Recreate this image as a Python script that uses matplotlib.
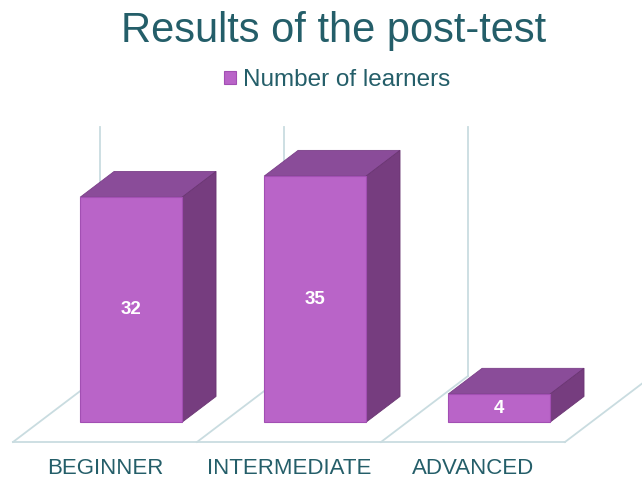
import numpy as np
import matplotlib.pyplot as plt
from matplotlib.patches import Polygon

# data
categories = ["BEGINNER", "INTERMEDIATE", "ADVANCED"]
learners = [32, 35, 4]
series_name = "Number of learners"
title = "Results of the post-test"
wall_top = 35.4

# oblique "3D" look: depth vector in data units (category, value)
DEPTH_X = 0.473
DEPTH_V = 9.39
d_front, d_back = 0.30, 0.69
bar_width = 0.554

front_col = "#B964C8"
top_col = "#8A4C99"
side_col = "#763D7F"
grid_col = "#C9DCE0"
text_col = "#245E69"


def proj(x, v, d):
    return (x + d * DEPTH_X, v + d * DEPTH_V)


fig = plt.figure(figsize=(6.42, 4.8), dpi=100)
ax = fig.add_axes([0, 0, 1, 1])
ax.set_xlim(-0.0707, 3.4185)
ax.set_ylim(-5.405, 62.87)
ax.axis("off")

n = len(categories)
x = np.arange(n) + 0.5

# floor outline and back gridlines
ax.plot([0, n], [0, 0], color=grid_col, lw=1.3, zorder=1)
for i in range(n + 1):
    p0 = proj(i, 0, 0)
    p1 = proj(i, 0, 1)
    ax.plot([p0[0], p1[0]], [p0[1], p1[1]], color=grid_col, lw=1.3, zorder=1)
    p2 = proj(i, wall_top, 1)
    ax.plot([p1[0], p2[0]], [p1[1], p2[1]], color=grid_col, lw=1.3, zorder=1)

# bars: front faces via ax.bar, then top and side faces
bars = ax.bar(x + d_front * DEPTH_X, learners, bar_width,
              bottom=d_front * DEPTH_V, color=front_col,
              edgecolor="#A24FB3", linewidth=0.8, zorder=3, label=series_name)

for xi, h in zip(x, learners):
    x0, x1 = xi - bar_width / 2, xi + bar_width / 2
    top = [proj(x0, h, d_front), proj(x1, h, d_front),
           proj(x1, h, d_back), proj(x0, h, d_back)]
    side = [proj(x1, 0, d_front), proj(x1, 0, d_back),
            proj(x1, h, d_back), proj(x1, h, d_front)]
    ax.add_patch(Polygon(top, closed=True, facecolor=top_col,
                         edgecolor="#7A3F88", lw=0.6, zorder=2))
    ax.add_patch(Polygon(side, closed=True, facecolor=side_col,
                         edgecolor="#6A3572", lw=0.6, zorder=2))
    cx, cv = proj(xi, h / 2, d_front)
    ax.text(cx, cv, str(h), ha="center", va="center", color="white",
            fontsize=13.5, fontweight="bold", fontfamily="Liberation Sans",
            zorder=4)

# category labels under the floor
for xi, name in zip(x, categories):
    ax.text(xi, -3.7, name, ha="center", va="center", color=text_col,
            fontsize=16, fontfamily="Liberation Sans")

fig.text(0.519, 0.935, title, ha="center", va="center", color=text_col,
         fontsize=30, fontfamily="Liberation Sans")
fig.legend(handles=[bars], labels=[series_name], loc="center",
           bbox_to_anchor=(0.525, 0.833), frameon=False,
           prop={"family": "Liberation Sans", "size": 17.5},
           labelcolor=text_col, handlelength=0.5, handleheight=0.5,
           handletextpad=0.25)

fig.savefig("out.png", dpi=100)
